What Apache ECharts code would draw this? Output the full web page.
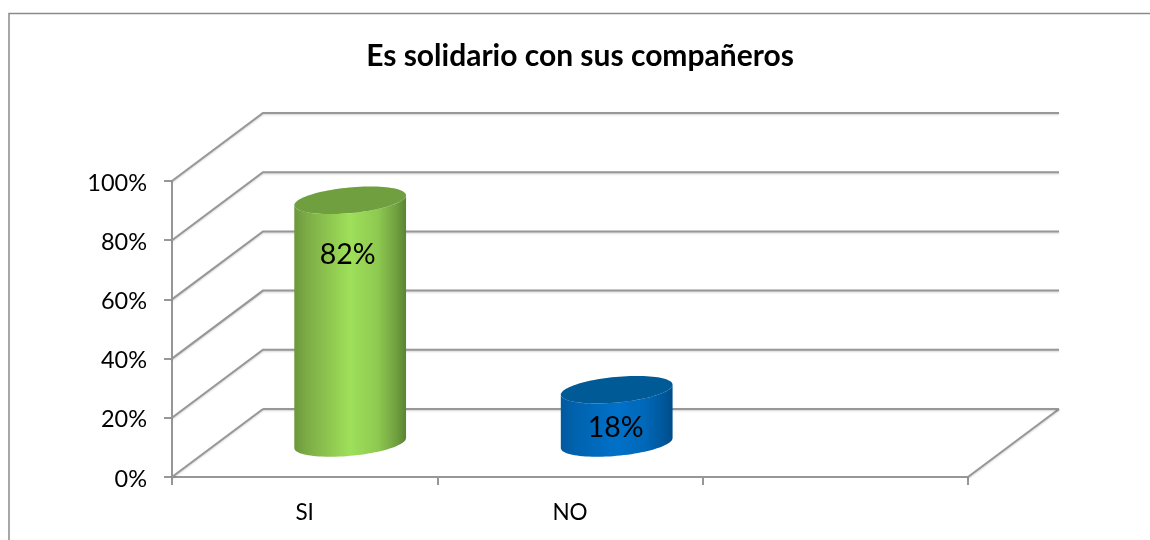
<!DOCTYPE html>
<html>
<head>
<meta charset="utf-8">
<style>html,body{margin:0;padding:0;background:#fff}#c{width:1150px;height:540px}</style>
<script src="https://cdn.jsdelivr.net/npm/echarts@6/dist/echarts.min.js"></script>
</head>
<body>
<div id="c"></div>
<script>
const chartTitle = 'Es solidario con sus compañeros';
const categories = ['SI', 'NO', ''];
const values = [82, 18];
const labelTexts = ['82%', '18%'];
const yTicks = [0, 20, 40, 60, 80, 100];

const bodyStops = [
  [[0,'#6c983d'],[0.12,'#7dad46'],[0.5,'#9fe05a'],[0.75,'#8ec951'],[0.92,'#6f9d3f'],[1,'#5a8434']],
  [[0,'#0059a0'],[0.12,'#0062ad'],[0.5,'#0071c9'],[0.75,'#0068b8'],[0.92,'#00579b'],[1,'#004c88']]
];
const capColors = ['#6f9f3e', '#005a96'];
const LABEL_LAYOUT = [{ h: 63.7, dx: -2.5 }, { h: 5.1, dx: -1 }];
const BAR_NUDGE = [0, 1.2];

const DX = 91, DY = -68, LINE = '#979797';
const A_RATIO = 0.5, B = 12.8, THETA = 5.37 * Math.PI / 180, BAR_FRAC = 0.423;

function ellPoint(cx, cy, a, t) {
  const ca = Math.cos(t), sa = Math.sin(t), c = Math.cos(THETA), s = Math.sin(THETA);
  return [cx + a * ca * c + B * sa * s, cy - a * ca * s + B * sa * c];
}
function tExtreme(a) { return Math.atan2(B * Math.sin(THETA), a * Math.cos(THETA)); }

function renderGrid(params, api) {
  const r = params.coordSys;
  const y = api.coord([0, api.value(1)])[1];
  const style = { stroke: LINE, lineWidth: 2, fill: null, shadowColor: 'rgba(0,0,0,0.18)', shadowBlur: 2, shadowOffsetY: 1 };
  const pts = api.value(1) === 0
    ? [[r.x, y], [r.x + DX, y + DY]]
    : [[r.x, y], [r.x + DX, y + DY], [r.x + r.width + DX, y + DY]];
  const kids = [{ type: 'polyline', shape: { points: pts }, style }];
  if (api.value(1) === 0) {
    kids.push({ type: 'polyline', shape: { points: [[r.x + r.width, y], [r.x + r.width + DX, y + DY]] }, style });
    kids.push({ type: 'polyline', shape: { points: [[r.x + DX, y + DY], [r.x + r.width + DX, y + DY]] }, style });
  }
  return { type: 'group', children: kids };
}

function renderBar(params, api) {
  const i = api.value(0), v = api.value(1);
  const top = api.coord([i, v]), base = api.coord([i, 0]);
  const a = api.size([1, 0])[0] * BAR_FRAC * A_RATIO;
  const cx = top[0] + DX / 2 + BAR_NUDGE[i], yTop = top[1] + DY / 2, yBase = base[1] + DY / 2;
  const t0 = tExtreme(a);
  const side = [];
  for (let k = 0; k <= 48; k++) side.push(ellPoint(cx, yBase, a, t0 + Math.PI * k / 48));
  for (let k = 0; k <= 48; k++) side.push(ellPoint(cx, yTop, a, t0 + Math.PI - Math.PI * k / 48));
  const cap = [];
  for (let k = 0; k < 96; k++) cap.push(ellPoint(cx, yTop, a, 2 * Math.PI * k / 96));
  const grad = new echarts.graphic.LinearGradient(0, 0, 1, 0,
    bodyStops[i].map(s => ({ offset: s[0], color: s[1] })));
  const ly = api.coord([i, LABEL_LAYOUT[i].h])[1] + DY / 2;
  return { type: 'group', children: [
    { type: 'polygon', shape: { points: side }, style: { fill: grad } },
    { type: 'polygon', shape: { points: cap }, style: { fill: capColors[i] } },
    { type: 'text', style: { x: cx + LABEL_LAYOUT[i].dx, y: ly, text: labelTexts[i], fill: '#000',
      font: '28.5px Lato, sans-serif', textAlign: 'center', textVerticalAlign: 'middle' } }
  ] };
}

const chart = echarts.init(document.getElementById('c'), null, { renderer: 'canvas' });
chart.setOption({
  animation: false,
  backgroundColor: '#fff',
  title: { text: chartTitle, left: 575, top: 36, textAlign: 'center',
    textStyle: { fontFamily: 'Lato', fontSize: 30, fontWeight: 'bold', color: '#000' } },
  graphic: [
    { type: 'polyline', silent: true, shape: { points: [[9, 540], [9, 13.5], [1150, 13.5]] },
      style: { stroke: '#8a8a8a', lineWidth: 1.5, fill: null } }
  ],
  grid: { left: 172, top: 181, width: 796, height: 296, containLabel: false },
  xAxis: { type: 'category', data: categories, boundaryGap: true,
    axisLine: { lineStyle: { color: LINE, width: 2 } },
    axisTick: { show: true, length: 8, lineStyle: { color: LINE, width: 2 } },
    axisLabel: { color: '#000', fontFamily: 'Lato', fontSize: 22.5, margin: 24, interval: 0 },
    splitLine: { show: false } },
  yAxis: { type: 'value', min: 0, max: 100, interval: 20,
    axisLine: { show: true, lineStyle: { color: LINE, width: 2 } },
    axisTick: { show: true, length: 8, lineStyle: { color: LINE, width: 2 } },
    axisLabel: { margin: 25, formatter: '{v|{value}%}',
      rich: { v: { color: '#000', fontFamily: 'Lato', fontSize: 23.5, padding: [4, 0, 0, 0] } } },
    splitLine: { show: false } },
  series: [
    { type: 'custom', z: 1, silent: true, renderItem: renderGrid, encode: { x: 0, y: 1 },
      data: yTicks.map(t => [0, t]) },
    { type: 'custom', z: 3, silent: true, renderItem: renderBar, encode: { x: 0, y: 1 },
      data: values.map((v, i) => [i, v]) }
  ]
});
</script>
</body>
</html>
